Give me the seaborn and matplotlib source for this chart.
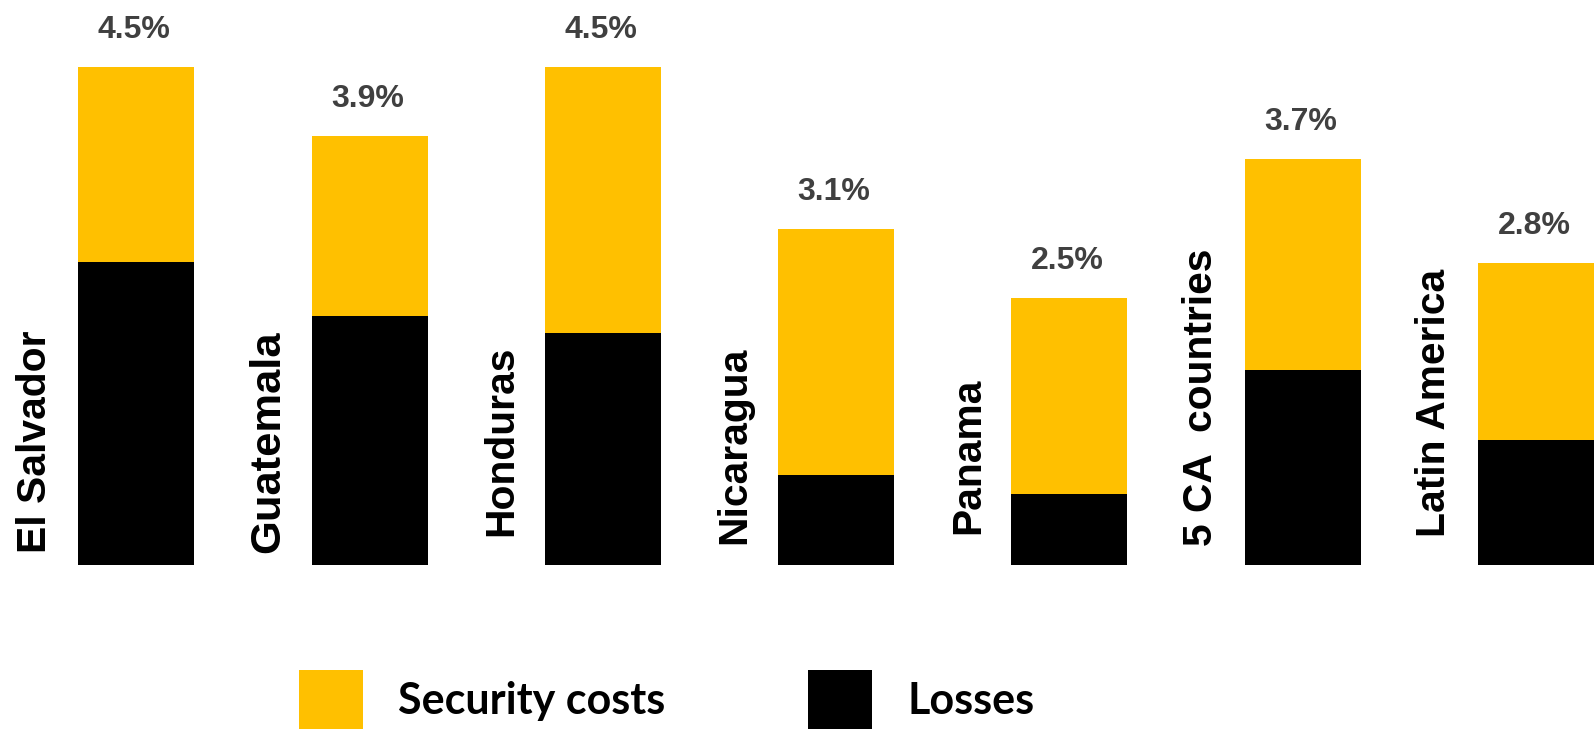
import matplotlib
matplotlib.use("Agg")
import matplotlib.pyplot as plt
from matplotlib.patches import Patch
import seaborn as sns

# Cost of crime and violence, % of GDP
categories = ["El Salvador", "Guatemala", "Honduras", "Nicaragua",
              "Panama", "5 CA  countries", "Latin America"]
losses = [2.81, 2.34, 2.20, 0.97, 0.80, 1.88, 1.27]
security_costs = [1.69, 1.56, 2.30, 2.13, 1.70, 1.82, 1.53]
totals = [round(l + s, 2) for l, s in zip(losses, security_costs)]

YELLOW = "#FFC000"
BLACK = "#000000"
GREY = "#404040"

sns.set_theme(style="white")
plt.rcParams["font.family"] = ["Liberation Sans", "DejaVu Sans"]
plt.rcParams["text.color"] = BLACK

DPI = 100
fig = plt.figure(figsize=(15.95, 7.29), dpi=DPI)
ax = fig.add_axes([0.0, 0.22565, 1.0, 0.77435])

# Stacked bars: the full total in yellow, losses drawn over it in black
sns.barplot(x=categories, y=totals, color=YELLOW, saturation=1,
            width=0.497, linewidth=0, ax=ax)
sns.barplot(x=categories, y=losses, color=BLACK, saturation=1,
            width=0.497, linewidth=0, ax=ax)

y_bottom, y_top = 0.1914, 5.081
ax.set_xlim(-0.5843, 6.253)
ax.set_ylim(y_bottom, y_top)
ax.axis("off")

px = 72.0 / DPI  # one pixel in points

# Total value above each bar
for i, t in enumerate(totals):
    ax.annotate(f"{t:.1f}%", xy=(i, t), xytext=(-2 * px, 29 * px),
                textcoords="offset points", ha="center", va="baseline",
                fontsize=23, fontweight="bold", color=GREY,
                annotation_clip=False)

# Vertical category names to the left of each bar
label_lift = [12, 12, 29, 21, 31, 19, 28]
label_size = [29.3, 31.3, 29.3, 29.3, 29.3, 29.3, 29.3]
for i, (name, lift, size) in enumerate(zip(categories, label_lift, label_size)):
    ax.annotate(name, xy=(i - 0.388, y_bottom), xytext=(0, lift * px),
                textcoords="offset points", rotation=90,
                rotation_mode="anchor", ha="left", va="baseline",
                fontsize=size, fontweight="bold", color=BLACK,
                annotation_clip=False)

# Legend along the bottom
leg_fs = 31
leg_px = leg_fs / px
handles = [Patch(facecolor=YELLOW, edgecolor="none", label="Security costs"),
           Patch(facecolor=BLACK, edgecolor="none", label="Losses")]
fig.legend(handles=handles, ncol=2, loc="lower left",
           bbox_to_anchor=(299 / 1595, 0.0), frameon=False,
           prop={"family": ["Lato", "DejaVu Sans"], "weight": "bold",
                 "size": leg_fs},
           labelcolor=BLACK,
           handlelength=64 / leg_px, handleheight=1.22 * 61 / leg_px,
           handletextpad=35 / leg_px, columnspacing=143 / leg_px,
           borderpad=0, borderaxespad=0)

fig.savefig("out.png", dpi=DPI)
